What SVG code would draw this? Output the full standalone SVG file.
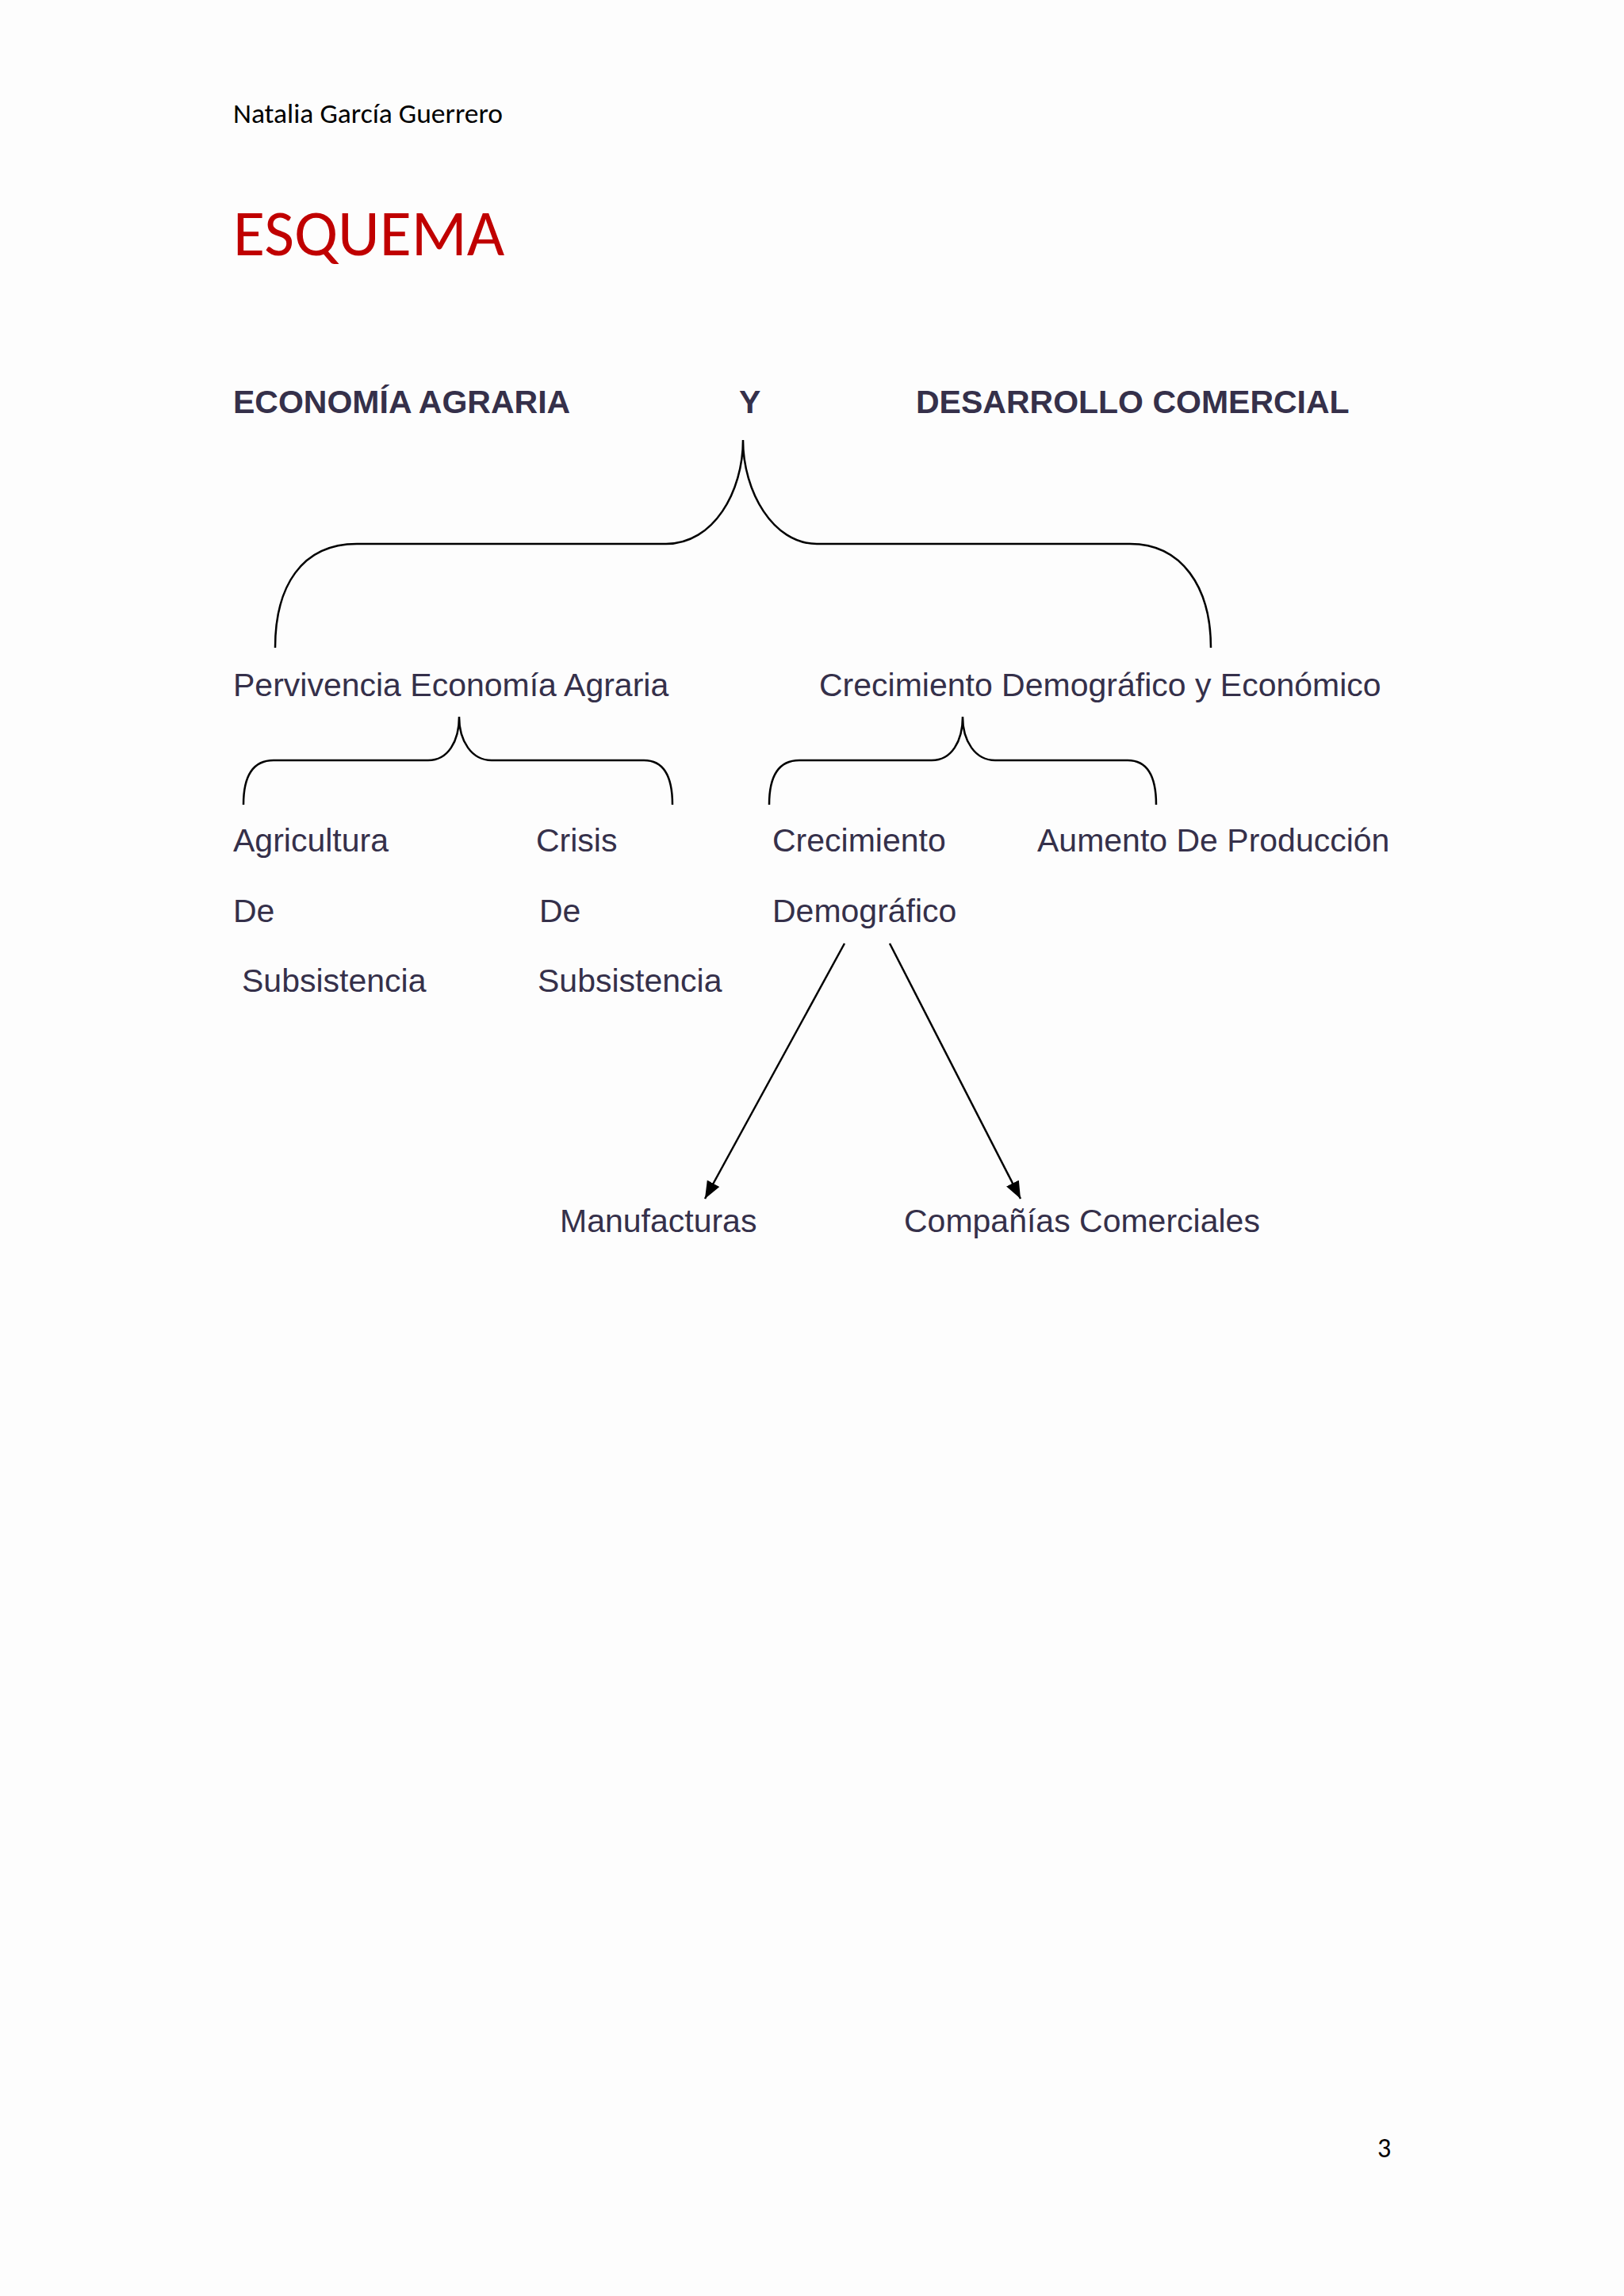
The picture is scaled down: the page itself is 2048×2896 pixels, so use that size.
<svg xmlns="http://www.w3.org/2000/svg" width="2048" height="2896" viewBox="0 0 2048 2896">
<style>
.t{font-family:"Liberation Sans",Arial,sans-serif;font-size:41px;fill:#35304a}
.b{font-weight:bold}
.c{font-family:Carlito,"Open Sans","Liberation Sans",sans-serif}
.l{fill:none;stroke:#000;stroke-width:2.5}
</style>
<defs><marker id="a" markerWidth="22" markerHeight="22" refX="20" refY="10" orient="auto" markerUnits="userSpaceOnUse" viewBox="0 0 20 20"><path d="M0,2L20,10L0,18z" fill="#000"/></marker></defs>
<rect width="2048" height="2896" fill="#fdfdfd"/>
<text class="c" x="294" y="155" font-size="35.5" fill="#000">Natalia García Guerrero</text>
<text class="c" x="294" y="322" font-size="82" fill="#c00000">ESQUEMA</text>
<text class="c" x="1737" y="2721" font-size="34" fill="#000">3</text>
<g id="title"><text class="t b" x="294" y="521" font-size="41.5">ECONOMÍA AGRARIA</text><text class="t b" x="932" y="521">Y</text><text class="t b" x="1155" y="521" font-size="41.5">DESARROLLO COMERCIAL</text></g>
<g id="n1"><text class="t" x="294" y="878">Pervivencia Economía Agraria</text></g>
<g id="n2"><text class="t" x="1033" y="878">Crecimiento Demográfico y Económico</text></g>
<g id="n3"><text class="t" x="294" y="1074">Agricultura</text><text class="t" x="294" y="1163">De</text><text class="t" x="305" y="1251">Subsistencia</text></g>
<g id="n4"><text class="t" x="676" y="1074">Crisis</text><text class="t" x="680" y="1163">De</text><text class="t" x="678" y="1251">Subsistencia</text></g>
<g id="n5"><text class="t" x="974" y="1074">Crecimiento</text><text class="t" x="974" y="1163">Demográfico</text></g>
<g id="n6"><text class="t" x="1308" y="1074">Aumento De Producción</text></g>
<g id="n7"><text class="t" x="706" y="1554">Manufacturas</text></g>
<g id="n8"><text class="t" x="1140" y="1554">Compañías Comerciales</text></g>
<g id="connectors">
<path class="l" d="M347,817 C347,740 380,686 450,686 L840,686 C900,686 937,620 937,555 C937,620 975,686 1030,686 L1425,686 C1490,686 1527,740 1527,817"/>
<path class="l" d="M307,1015 C307,985 315,959 345,959 L540,959 C565,959 579,935 579,904 C579,935 595,959 620,959 L812,959 C840,959 848,985 848,1015"/>
<path class="l" d="M970,1015 C970,985 978,959 1008,959 L1175,959 C1200,959 1214,935 1214,904 C1214,935 1230,959 1255,959 L1422,959 C1450,959 1458,985 1458,1015"/>
<line class="l" x1="1065" y1="1190" x2="889" y2="1512" marker-end="url(#a)"/>
<line class="l" x1="1122" y1="1190" x2="1287" y2="1512" marker-end="url(#a)"/>
</g>
</svg>
